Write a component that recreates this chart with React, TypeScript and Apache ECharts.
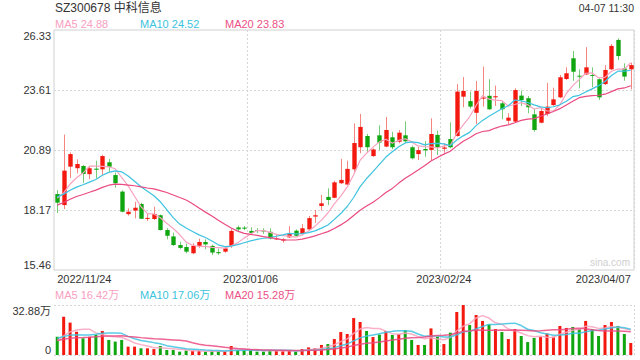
import React, { useEffect, useRef } from "react";
import * as echarts from "echarts";

// ---------- data ----------
const stockTitle = "SZ300678 中科信息";
const timeStamp = "04-07 11:30";
const watermark = "sina.com";

const dates = [
  "2022/11/24", "2022/11/25", "2022/11/28", "2022/11/29", "2022/11/30",
  "2022/12/01", "2022/12/02", "2022/12/05", "2022/12/06", "2022/12/07",
  "2022/12/08", "2022/12/09", "2022/12/12", "2022/12/13", "2022/12/14",
  "2022/12/15", "2022/12/16", "2022/12/19", "2022/12/20", "2022/12/21",
  "2022/12/22", "2022/12/23", "2022/12/26", "2022/12/27", "2022/12/28",
  "2022/12/29", "2022/12/30", "2023/01/03", "2023/01/04", "2023/01/05",
  "2023/01/06", "2023/01/09", "2023/01/10", "2023/01/11", "2023/01/12",
  "2023/01/13", "2023/01/16", "2023/01/17", "2023/01/18", "2023/01/19",
  "2023/01/20", "2023/01/30", "2023/01/31", "2023/02/01", "2023/02/02",
  "2023/02/03", "2023/02/06", "2023/02/07", "2023/02/08", "2023/02/09",
  "2023/02/10", "2023/02/13", "2023/02/14", "2023/02/15", "2023/02/16",
  "2023/02/17", "2023/02/20", "2023/02/21", "2023/02/22", "2023/02/23",
  "2023/02/24", "2023/02/27", "2023/02/28", "2023/03/01", "2023/03/02",
  "2023/03/03", "2023/03/06", "2023/03/07", "2023/03/08", "2023/03/09",
  "2023/03/10", "2023/03/13", "2023/03/14", "2023/03/15", "2023/03/16",
  "2023/03/17", "2023/03/20", "2023/03/21", "2023/03/22", "2023/03/23",
  "2023/03/24", "2023/03/27", "2023/03/28", "2023/03/29", "2023/03/30",
  "2023/03/31", "2023/04/03", "2023/04/04", "2023/04/06", "2023/04/07",
];
const tickDates = ["2022/11/24", "2023/01/06", "2023/02/24", "2023/04/07"];
const gridDates = ["2023/01/06", "2023/02/24"];

const opens = [
  18.9, 18.4, 20.14, 20.07, 20.17, 19.8, 20.05, 20.02, 20.34, 19.76,
  19.01, 17.99, 18.15, 18.45, 17.8, 17.77, 17.94, 17.27, 16.98, 16.59,
  16.5, 16.22, 16.56, 16.73, 16.55, 16.27, 16.29, 16.55, 17.39, 17.38,
  17.23, 17.27, 17.25, 17.19, 16.86, 16.79, 16.94, 17.24, 17.09, 17.3,
  17.88, 18.36, 18.77, 18.73, 19.39, 19.33, 20.02, 21.02, 21.53, 20.62,
  21.56, 21.05, 21.47, 21.27, 21.56, 21.02, 20.71, 20.94, 20.9, 21.58,
  20.95, 21.39, 21.53, 23.31, 23.11, 22.58, 23.22, 23.35, 23.28, 23.01,
  22.22, 22.18, 23.36, 23.24, 22.51, 22.13, 22.53, 22.93, 23.28, 24.11,
  25.05, 24.26, 24.32, 24.29, 24.1, 23.88, 24.55, 25.88, 24.59, 24.55,
];
const closes = [
  18.51, 19.96, 20.71, 20.26, 19.81, 20.07, 20.0, 20.62, 20.14, 19.39,
  18.1, 18.1, 18.28, 17.78, 17.82, 18.0, 17.27, 17.01, 16.59, 16.46,
  16.29, 16.55, 16.73, 16.62, 16.25, 16.22, 16.44, 17.23, 17.3, 17.33,
  17.14, 17.24, 17.22, 16.89, 16.89, 16.85, 17.12, 17.01, 17.35, 17.81,
  17.94, 18.48, 18.63, 19.43, 19.54, 20.04, 21.21, 21.94, 21.02, 20.92,
  21.23, 21.8, 21.02, 21.68, 21.29, 20.52, 20.89, 20.88, 21.62, 21.02,
  21.01, 21.02, 23.54, 23.57, 22.86, 23.57, 23.27, 22.74, 23.33, 22.74,
  22.36, 23.61, 23.16, 22.83, 21.8, 22.66, 22.86, 23.19, 24.19, 24.37,
  24.44, 24.22, 24.64, 24.25, 23.28, 24.52, 25.61, 25.15, 24.22, 24.74,
];
const lows = [
  18.04, 18.22, 19.63, 19.84, 19.41, 19.57, 19.61, 19.76, 19.91, 19.19,
  18.07, 17.92, 17.8, 17.77, 17.68, 17.72, 17.25, 16.85, 16.55, 16.4,
  16.22, 16.18, 16.46, 16.4, 16.14, 16.15, 16.24, 16.46, 17.18, 17.27,
  17.08, 17.13, 17.1, 16.85, 16.82, 16.7, 16.91, 16.97, 17.03, 17.27,
  17.6, 18.15, 18.4, 18.71, 19.36, 19.3, 19.84, 20.75, 20.77, 20.58,
  20.89, 21.02, 20.93, 21.2, 21.23, 20.47, 20.44, 20.59, 20.44, 20.67,
  20.77, 20.97, 21.5, 22.83, 22.77, 22.07, 22.86, 22.71, 22.89, 22.29,
  22.07, 22.13, 22.89, 22.56, 21.72, 22.1, 22.43, 22.89, 23.24, 24.06,
  24.03, 23.69, 24.29, 23.74, 23.16, 23.84, 24.52, 24.97, 24.03, 23.64,
];
const highs = [
  19.08, 21.59, 20.79, 20.47, 20.22, 20.14, 20.41, 20.68, 20.49, 19.87,
  19.07, 18.25, 18.55, 18.51, 18.03, 18.33, 17.97, 17.35, 17.15, 16.74,
  16.65, 16.67, 16.88, 16.85, 16.61, 16.43, 16.49, 17.35, 17.47, 17.45,
  17.39, 17.36, 17.35, 17.35, 17.04, 16.9, 17.45, 17.3, 17.54, 17.91,
  18.18, 18.86, 19.16, 19.5, 20.5, 20.41, 22.1, 22.53, 21.62, 20.97,
  22.01, 22.39, 21.72, 21.8, 22.19, 21.09, 21.04, 21.3, 22.33, 21.77,
  21.2, 22.15, 23.88, 24.2, 23.54, 24.02, 24.67, 24.1, 23.81, 23.11,
  22.56, 23.69, 23.58, 23.34, 22.75, 22.83, 23.94, 23.72, 24.29, 24.64,
  25.38, 24.55, 25.55, 24.64, 24.14, 24.74, 25.7, 25.95, 24.82, 24.85,
];
// volumes in 万 shares
const volumes = [
  12.0, 25.2, 21.3, 15.3, 11.0, 12.0, 13.2, 15.8, 9.9, 8.8,
  9.9, 5.5, 5.5, 4.4, 4.4, 3.9, 5.9, 3.3, 3.3, 2.2,
  2.9, 2.6, 2.6, 2.2, 2.6, 2.6, 2.6, 5.9, 3.3, 3.3,
  3.3, 2.2, 2.2, 3.3, 2.6, 2.6, 3.3, 2.2, 3.9, 5.0,
  4.4, 6.6, 7.2, 10.5, 15.1, 13.8, 24.3, 21.7, 15.8, 11.8,
  13.4, 15.8, 13.2, 13.8, 16.4, 9.9, 6.6, 6.6, 17.5, 12.0,
  7.2, 14.7, 28.3, 32.88, 19.7, 26.3, 22.4, 20.2, 17.1, 15.1,
  10.5, 17.1, 12.5, 8.5, 11.2, 12.0, 14.2, 12.0, 19.1, 17.8,
  18.4, 17.1, 22.4, 17.1, 12.5, 19.7, 21.7, 19.1, 13.8, 7.9,
];
// sessions before the visible window (needed for the moving averages)
const priorCloses = [
  17.62, 17.8, 17.75, 17.95, 18.1, 17.98, 18.2, 18.15, 18.35, 18.4,
  18.7, 18.95, 18.85, 18.75, 18.85, 18.8, 18.7, 18.85, 18.74,
];
const priorVolumes = [
  7.5, 8.8, 7.2, 9.1, 8.4, 6.9, 7.8, 8.6, 7.7, 8.0,
  14.2, 11.6, 13.5, 12.0, 11.2, 9.6, 8.3, 9.4, 8.2,
];

const priceMin = 15.46;
const priceMax = 26.33;
const priceTicks = ["15.46", "18.17", "20.89", "23.61", "26.33"];
const volumeMax = 32.88;
const volumeTicks = ["0", "32.88万"];

const maPeriods = [5, 10, 20];
const priceLegend = ["MA5 24.88", "MA10 24.52", "MA20 23.83"];
const volumeLegend = ["MA5 16.42万", "MA10 17.06万", "MA20 15.28万"];

// ---------- styling ----------
const UP = "#f3190f";
const DOWN = "#10a610";
const UP_WICK = "#f5857f";
const DOWN_WICK = "#76cc76";
const MA_COLORS = ["#f8a3c0", "#3ec3e0", "#ea4a82"];
const LEGEND_COLORS = ["#f7a0bf", "#3cc3dd", "#ec4f86"];
const FONT = "'Liberation Sans', Arial, 'Noto Sans CJK SC', sans-serif";

function movingAverage(prior: number[], vals: number[], n: number) {
  const all = prior.concat(vals);
  const off = prior.length;
  return vals.map((_, i) => {
    let s = 0;
    for (let k = 0; k < n; k++) s += all[off + i - k];
    return +(s / n).toFixed(3);
  });
}

export default function App() {
  const ref = useRef<HTMLDivElement>(null);

  useEffect(() => {
    if (!ref.current) return;
    const chart = echarts.init(ref.current, undefined, { renderer: "svg" });

    const candleData = dates.map((_, i) => [i, opens[i], closes[i], lows[i], highs[i]]);
    const volData = volumes.map((v, i) => ({
      value: v,
      itemStyle: { color: closes[i] >= opens[i] ? UP : DOWN },
    }));

    const dotted = { color: "#d6d6d6", type: [2, 2] as any, width: 1 };

    const option: any = {
      animation: false,
      backgroundColor: "#ffffff",
      textStyle: { fontFamily: FONT },
      grid: [
        {
          left: 54, right: 6, top: 30, height: 240, show: true,
          borderColor: "#d0d0d0", borderWidth: 1, backgroundColor: "transparent",
          containLabel: false, outerBoundsMode: "none",
        },
        { left: 54, right: 6, top: 305, height: 50, containLabel: false, outerBoundsMode: "none" },
      ],
      xAxis: [
        {
          type: "category",
          gridIndex: 0,
          data: dates,
          boundaryGap: true,
          axisLine: { show: false },
          axisTick: { show: false },
          axisLabel: {
            interval: (_i: number, v: string) => tickDates.indexOf(v) >= 0,
            color: "#333",
            fontSize: 11,
            fontFamily: FONT,
            margin: 3,
            alignMinLabel: "left",
            alignMaxLabel: "right",
            showMinLabel: true,
            showMaxLabel: true,
          },
          splitLine: {
            show: true,
            interval: (_i: number, v: string) => gridDates.indexOf(v) >= 0,
            lineStyle: dotted,
          },
        },
        {
          type: "category",
          gridIndex: 1,
          data: dates,
          boundaryGap: true,
          axisLine: { show: false },
          axisTick: { show: false },
          axisLabel: { show: false },
          splitLine: {
            show: true,
            interval: (_i: number, v: string) => gridDates.indexOf(v) >= 0,
            lineStyle: dotted,
          },
        },
      ],
      yAxis: [
        {
          type: "value",
          gridIndex: 0,
          position: "left",
          min: priceMin,
          max: priceMax,
          show: false,
          splitLine: { show: false },
        },
        {
          type: "value",
          gridIndex: 0,
          position: "left",
          offset: 0,
          min: 0,
          max: priceTicks.length - 1,
          interval: 1,
          axisLine: { show: false },
          axisTick: { show: false },
          axisLabel: {
            formatter: (v: number) => priceTicks[Math.round(v)],
            color: "#333",
            fontSize: 11,
            fontFamily: FONT,
            margin: 3,
            verticalAlignMinLabel: "bottom",
            verticalAlignMaxLabel: "top",
          },
          splitLine: { show: true, showMinLine: false, showMaxLine: false, lineStyle: dotted },
        },
        {
          type: "value",
          gridIndex: 1,
          position: "left",
          min: 0,
          max: volumeMax,
          interval: volumeMax,
          axisLine: { show: false },
          axisTick: { show: false },
          axisLabel: {
            formatter: (v: number) => (v === 0 ? volumeTicks[0] : volumeTicks[1]),
            color: "#333",
            fontSize: 11,
            fontFamily: FONT,
            margin: 3,
            verticalAlignMinLabel: "bottom",
            verticalAlignMaxLabel: "top",
          },
          splitLine: { show: true, lineStyle: dotted },
        },
      ],
      series: [
        {
          type: "custom",
          name: "K",
          xAxisIndex: 0,
          yAxisIndex: 0,
          data: candleData,
          encode: { x: 0, y: [1, 2, 3, 4] },
          clip: true,
          renderItem: (_params: any, api: any) => {
            const idx = api.value(0);
            const o = api.value(1);
            const c = api.value(2);
            const l = api.value(3);
            const h = api.value(4);
            const pO = api.coord([idx, o]);
            const pC = api.coord([idx, c]);
            const pL = api.coord([idx, l]);
            const pH = api.coord([idx, h]);
            const bw = Math.max(api.size([1, 0])[0] * 0.68, 1);
            const up = c >= o;
            const x = Math.round(pO[0]) + 0.5;
            const top = Math.min(pO[1], pC[1]);
            const bh = Math.max(Math.abs(pO[1] - pC[1]), 1);
            return {
              type: "group",
              children: [
                {
                  type: "line",
                  shape: { x1: x, y1: pH[1], x2: x, y2: pL[1] },
                  style: { stroke: up ? UP_WICK : DOWN_WICK, lineWidth: 1 },
                },
                {
                  type: "rect",
                  shape: { x: x - bw / 2, y: top, width: bw, height: bh },
                  style: { fill: up ? UP : DOWN },
                },
              ],
            };
          },
        },
        ...maPeriods.map((n, k) => ({
          type: "line",
          name: "MA" + n,
          xAxisIndex: 0,
          yAxisIndex: 0,
          data: movingAverage(priorCloses, closes, n),
          symbol: "none",
          lineStyle: { color: MA_COLORS[k], width: 1.2 },
          z: 3,
        })),
        {
          type: "bar",
          name: "VOL",
          xAxisIndex: 1,
          yAxisIndex: 2,
          data: volData,
          barWidth: 3,
        },
        ...maPeriods.map((n, k) => ({
          type: "line",
          name: "VMA" + n,
          xAxisIndex: 1,
          yAxisIndex: 2,
          data: movingAverage(priorVolumes, volumes, n),
          symbol: "none",
          lineStyle: { color: MA_COLORS[k], width: 1.5, opacity: 0.85 },
          z: 3,
        })),
      ],
      graphic: [
        { type: "text", left: 55, top: 2, style: { text: stockTitle, fill: "#333", font: `12px ${FONT}` } },
        { type: "text", right: 6, top: 3, style: { text: timeStamp, fill: "#333", font: `10.5px ${FONT}` } },
        ...priceLegend.map((t, k) => ({
          type: "text",
          left: [55, 140, 225][k],
          top: 18,
          style: { text: t, fill: LEGEND_COLORS[k], font: `11px ${FONT}` },
        })),
        ...volumeLegend.map((t, k) => ({
          type: "text",
          left: [55, 140, 225][k],
          top: 289,
          style: { text: t, fill: LEGEND_COLORS[k], font: `11px ${FONT}` },
        })),
        { type: "text", right: 10, top: 257, style: { text: watermark, fill: "#cfcfcf", font: `10px ${FONT}` } },
      ],
    };

    chart.setOption(option);
    return () => chart.dispose();
  }, []);

  return (
    <div
      ref={ref}
      style={{ position: "fixed", left: 0, top: 0, width: 640, height: 360, background: "#fff" }}
    />
  );
}
